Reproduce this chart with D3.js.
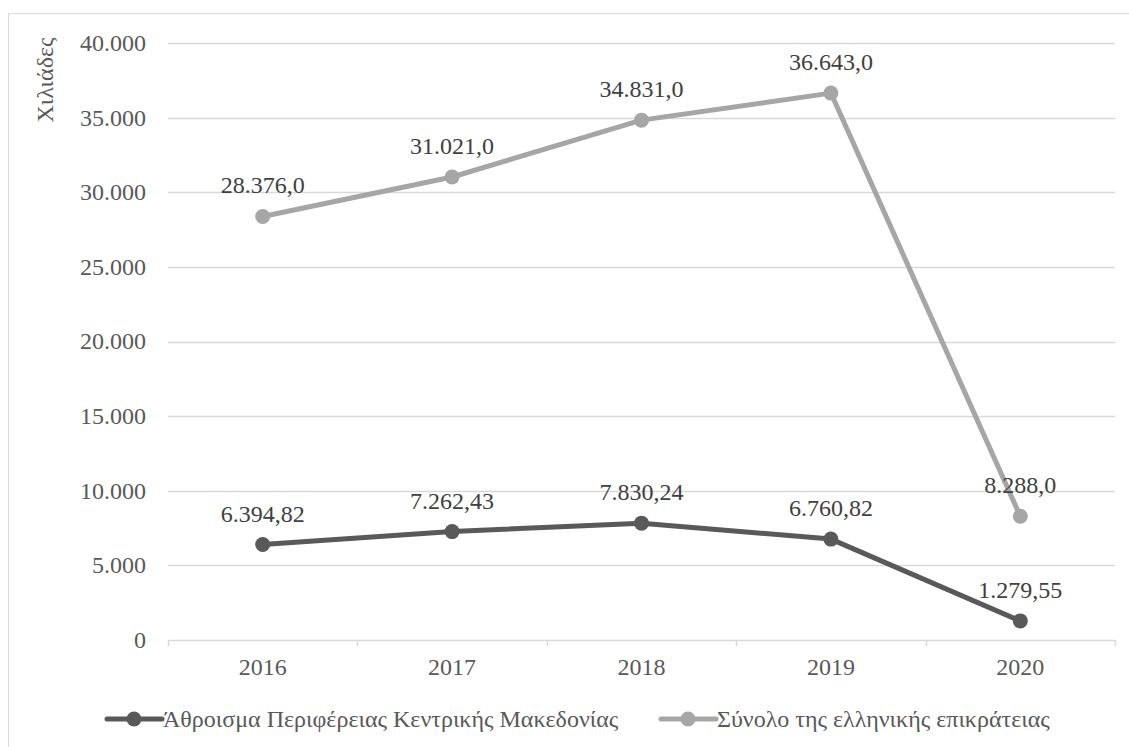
<!DOCTYPE html>
<html><head><meta charset="utf-8">
<script src="https://cdn.jsdelivr.net/npm/d3@7"></script>
<style>
html,body{margin:0;padding:0;background:#fff;}
text{font-family:'Liberation Serif','Times New Roman','DejaVu Serif',serif !important;}
</style></head>
<body>
<svg id="chart" width="1129" height="747"></svg>
<script>
const years = ["2016","2017","2018","2019","2020"];
const regionValues = [6394.82, 7262.43, 7830.24, 6760.82, 1279.55];
const totalValues = [28376.0, 31021.0, 34831.0, 36643.0, 8288.0];
const yTicks = [0, 5000, 10000, 15000, 20000, 25000, 30000, 35000, 40000];
const seriesNames = ["Άθροισμα Περιφέρειας Κεντρικής Μακεδονίας", "Σύνολο της ελληνικής επικράτειας"];
const yTitle = "Χιλιάδες";

const locale = d3.formatLocale({decimal: ",", thousands: ".", grouping: [3], currency: ["", "€"]});
const fmtTick = locale.format(",.0f");
const fmtRegion = locale.format(",.2f");
const fmtTotal = locale.format(",.1f");

const series = [
  {name: seriesNames[0], values: regionValues, color: "#595959", fmt: fmtRegion},
  {name: seriesNames[1], values: totalValues, color: "#a6a6a6", fmt: fmtTotal}
];

const svg = d3.select("#chart");
const textColor = "#595959";
const fs = 24;

svg.append("rect").attr("x", 8.5).attr("y", 13.5).attr("width", 1135).attr("height", 750)
  .attr("fill", "none").attr("stroke", "#d9d9d9").attr("stroke-width", 1);

const plot = {left: 168, right: 1115, top: 43, bottom: 640};
const x = d3.scaleBand().domain(years).range([plot.left, plot.right]).padding(0);
const y = d3.scaleLinear().domain([0, 40000]).range([plot.bottom, plot.top]);

svg.append("g").selectAll("line").data(yTicks.filter(d => d > 0)).join("line")
  .attr("x1", plot.left).attr("x2", plot.right)
  .attr("y1", d => Math.round(y(d)) + 0.5).attr("y2", d => Math.round(y(d)) + 0.5)
  .attr("stroke", "#d9d9d9").attr("stroke-width", 1.5);

svg.append("g").selectAll("text").data(yTicks).join("text")
  .attr("x", 146).attr("y", d => y(d)).attr("dy", "0.33em")
  .attr("text-anchor", "end").attr("fill", textColor).attr("font-size", fs)
  .text(d => fmtTick(d));

const xAxis = d3.axisBottom(x).tickSize(0).tickPadding(18);
const gx = svg.append("g").attr("transform", `translate(0,${plot.bottom})`).call(xAxis)
  .attr("font-family", null).attr("font-size", null);
gx.select(".domain").attr("stroke", "#d9d9d9").attr("stroke-width", 1.5);
gx.selectAll("text").attr("fill", textColor).attr("font-size", fs);
const bounds = years.map(d => x(d)).concat([x(years[years.length - 1]) + x.bandwidth()]);
svg.append("g").selectAll("line").data(bounds).join("line")
  .attr("x1", d => Math.round(d) + 0.5).attr("x2", d => Math.round(d) + 0.5)
  .attr("y1", plot.bottom).attr("y2", plot.bottom + 6)
  .attr("stroke", "#d9d9d9").attr("stroke-width", 1.5);

svg.append("text").attr("transform", "translate(53,80) rotate(-90)")
  .attr("text-anchor", "middle").attr("fill", textColor).attr("font-size", fs)
  .text(yTitle);

const cx = d => x(d) + x.bandwidth() / 2;
const line = d3.line().x((d, i) => cx(years[i])).y(d => y(d));

[series[1], series[0]].forEach(s => {
  svg.append("path").datum(s.values).attr("d", line)
    .attr("fill", "none").attr("stroke", s.color).attr("stroke-width", 5)
    .attr("stroke-linejoin", "round").attr("stroke-linecap", "round");
  svg.append("g").selectAll("circle").data(s.values).join("circle")
    .attr("cx", (d, i) => cx(years[i])).attr("cy", d => y(d)).attr("r", 7.5)
    .attr("fill", s.color);
});
series.forEach(s => {
  svg.append("g").selectAll("text").data(s.values).join("text")
    .attr("x", (d, i) => cx(years[i])).attr("y", d => y(d) - 23)
    .attr("text-anchor", "middle").attr("fill", "#404040").attr("font-size", fs)
    .text(d => s.fmt(d));
});

const legendY = 719;
const legendItems = [{x: 107, s: series[0]}, {x: 661, s: series[1]}];
legendItems.forEach(it => {
  const g = svg.append("g");
  g.append("line").attr("x1", it.x).attr("x2", it.x + 55).attr("y1", legendY).attr("y2", legendY)
    .attr("stroke", it.s.color).attr("stroke-width", 5).attr("stroke-linecap", "round");
  g.append("circle").attr("cx", it.x + 27).attr("cy", legendY).attr("r", 7.5).attr("fill", it.s.color);
  g.append("text").attr("x", it.x + 56).attr("y", legendY).attr("dy", "0.33em")
    .attr("fill", textColor).attr("font-size", fs).text(it.s.name);
});
</script>
</body></html>
